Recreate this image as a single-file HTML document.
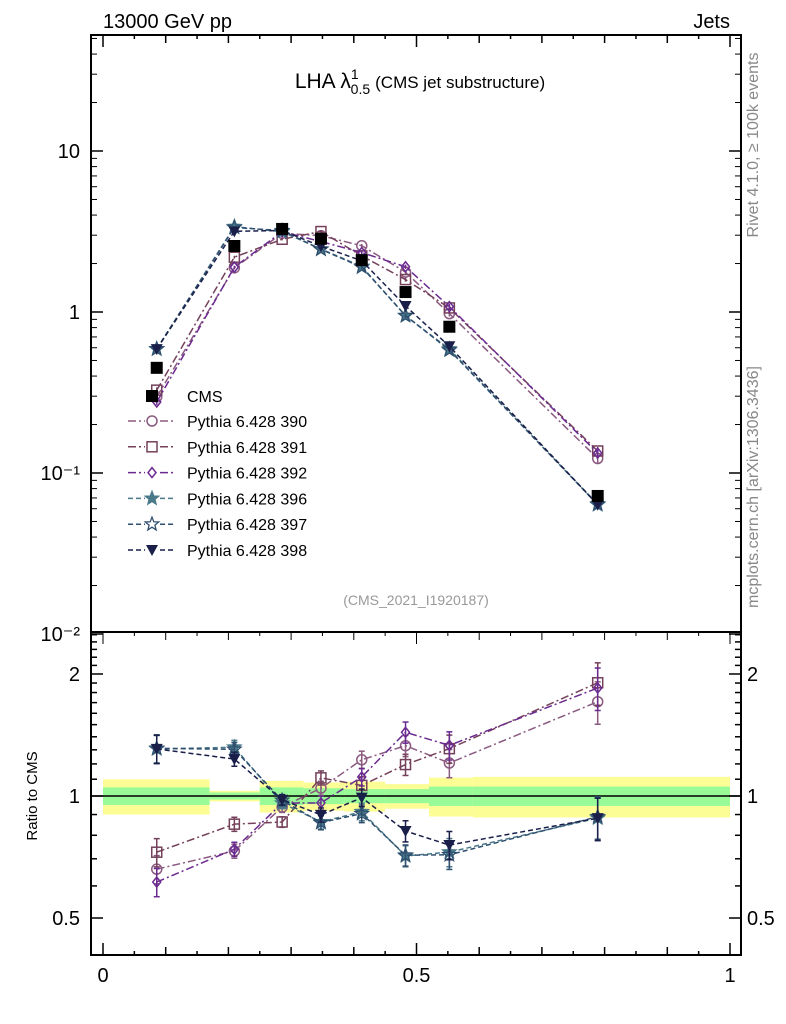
<!DOCTYPE html>
<html><head><meta charset="utf-8"><style>
body{margin:0;background:#fff;}
svg{display:block;font-family:"Liberation Sans",sans-serif;}
</style></head><body>
<svg id="c" width="786" height="1024" viewBox="0 0 786 1024">
<g id="bands"></g>
<g id="axes"></g>
<g id="series"></g>
<g id="legend"></g>
<text x="103" y="28" font-size="20">13000 GeV pp</text>
<text x="730" y="28" font-size="20" text-anchor="end">Jets</text>
<text x="420" y="88" font-size="21" text-anchor="middle">LHA λ<tspan font-size="14" dy="-9">1</tspan><tspan font-size="14" dx="-8" dy="15">0.5</tspan><tspan font-size="17" dx="5" dy="-6">(CMS jet substructure)</tspan></text>
<text x="416" y="605" font-size="14" fill="#999" text-anchor="middle">(CMS_2021_I1920187)</text>
<text transform="translate(758,145) rotate(-90)" font-size="16" fill="#888" text-anchor="middle">Rivet 4.1.0, ≥ 100k events</text>
<text transform="translate(758,487) rotate(-90)" font-size="16" fill="#888" text-anchor="middle">mcplots.cern.ch [arXiv:1306.3436]</text>
<text transform="translate(37,796) rotate(-90)" font-size="15" text-anchor="middle">Ratio to CMS</text>
</svg>
<script>
const xVals=[0.0857,0.2095,0.2857,0.3476,0.4127,0.4825,0.5524,0.789];
const cmsVals=[0.45,2.57,3.28,2.85,2.1,1.33,0.81,0.072];
const binEdges=[0,0.17,0.25,0.32,0.385,0.45,0.52,0.59,1];
const totErr=[0.10,0.03,0.09,0.08,0.085,0.07,0.11,0.115];
const statErr=[0.05,0.02,0.05,0.045,0.04,0.04,0.055,0.055];
const p390=[0.297,1.88,3.08,2.98,2.58,1.77,0.977,0.123];
const p391=[0.327,2.19,2.83,3.16,2.23,1.59,1.06,0.137];
const p392=[0.276,1.90,3.15,2.74,2.34,1.91,1.08,0.133];
const p396=[0.588,3.39,3.15,2.46,1.92,0.946,0.589,0.0635];
const p397=[0.59,3.35,3.2,2.45,1.9,0.95,0.58,0.064];
const p398=[0.588,3.17,3.21,2.56,2.08,1.09,0.613,0.0635];
const relErr=[0.08,0.04,0.03,0.04,0.05,0.06,0.08,0.12];
const mainTicks=["10\u207B\u00B2","10\u207B\u00B9","1","10"];
const ratioTicks=[0.5,1,2];
const xTicks=[0,0.5,1];

const NS="http://www.w3.org/2000/svg";
const L=91,R=741,T=35,MB=632,RB=955;
const X=v=>103+627*v;
const Y=v=>312-161*Math.log10(v);
const RY=r=>796-122*Math.log2(r);
function mk(tag,at,par){const e=document.createElementNS(NS,tag);for(const k in at)e.setAttribute(k,at[k]);par.appendChild(e);return e;}
const gB=document.getElementById('bands'),gA=document.getElementById('axes'),gS=document.getElementById('series'),gL=document.getElementById('legend');

for(let i=0;i<cmsVals.length;i++){
  const x0=X(binEdges[i]),x1=X(binEdges[i+1]);
  let r=mk('rect',{x:x0,y:RY(1+totErr[i]),width:x1-x0,height:RY(1-totErr[i])-RY(1+totErr[i]),fill:'#fdfd96'},gB);
  
  
  let g=mk('rect',{x:x0,y:RY(1+statErr[i]),width:x1-x0,height:RY(1-statErr[i])-RY(1+statErr[i]),fill:'#98fb98'},gB);
  
  
}
mk('line',{x1:L,x2:R,y1:RY(1),y2:RY(1),stroke:'#000','stroke-width':1.5},gB);

mk('rect',{x:L,y:T,width:R-L,height:MB-T,fill:'none',stroke:'#000','stroke-width':2},gA);
mk('rect',{x:L,y:MB,width:R-L,height:RB-MB,fill:'none',stroke:'#000','stroke-width':2},gA);
for(let d=-2;d<=1;d++){
  const y=Y(Math.pow(10,d));
  mk('line',{x1:L,x2:L+12,y1:y,y2:y,stroke:'#000','stroke-width':1.5},gA);
  mk('line',{x1:R,x2:R-12,y1:y,y2:y,stroke:'#000','stroke-width':1.5},gA);
  const t=mk('text',{x:80,y:y+7,'font-size':20,'text-anchor':'end'},gA);t.textContent=mainTicks[d+2];
  
  
  for(let m=2;m<=9;m++){const yy=Y(m*Math.pow(10,d));if(yy<T)continue;
    mk('line',{x1:L,x2:L+6,y1:yy,y2:yy,stroke:'#000'},gA);mk('line',{x1:R,x2:R-6,y1:yy,y2:yy,stroke:'#000'},gA);}
}
[0.5,0.6,0.7,0.8,0.9,1,1.1,1.2,1.3,1.4,1.5,1.6,1.7,1.8,1.9,2,2.1,2.2,2.3,2.4,2.5].forEach(v=>{const y=RY(v);if(y<MB+2)return;const maj=ratioTicks.includes(v);const l=maj?12:6;
  mk('line',{x1:L,x2:L+l,y1:y,y2:y,stroke:'#000','stroke-width':1.5},gA);mk('line',{x1:R,x2:R-l,y1:y,y2:y,stroke:'#000','stroke-width':1.5},gA);});
ratioTicks.forEach(v=>{const y=RY(v);
  const a=mk('text',{x:80,y:y+7,'font-size':20,'text-anchor':'end'},gA);a.textContent=String(v);
  
  
  const b=mk('text',{x:747,y:y+7,'font-size':20},gA);b.textContent=String(v);
  
  });
for(let k=0;k<=20;k++){const v=k/20,x=X(v);const l=k%10==0?12:(k%2==0?8:4);
  mk('line',{x1:x,x2:x,y1:RB,y2:RB-l,stroke:'#000','stroke-width':1.5},gA);
  mk('line',{x1:x,x2:x,y1:T,y2:T+l,stroke:'#000','stroke-width':1.5},gA);
  mk('line',{x1:x,x2:x,y1:MB,y2:MB+l,stroke:'#000','stroke-width':1},gA);}
xTicks.forEach(v=>{const t=mk('text',{x:X(v),y:RB+27,'font-size':20,'text-anchor':'middle'},gA);t.textContent=String(v);
  
  });

function marker(par,type,x,y,col){
  if(type=='circle')return mk('circle',{cx:x,cy:y,r:5,fill:'none',stroke:col,'stroke-width':1.5},par);
  if(type=='square')return mk('rect',{x:x-5,y:y-5,width:10,height:10,fill:'none',stroke:col,'stroke-width':1.5},par);
  if(type=='diamond')return mk('polygon',{points:`${x},${y-5} ${x+4},${y} ${x},${y+5} ${x-4},${y}`,fill:'none',stroke:col,'stroke-width':1.5},par);
  if(type=='star'||type=='ostar'){let p=[];for(let i=0;i<10;i++){const a=-Math.PI/2+i*Math.PI/5,rr=i%2?3:7;p.push((x+rr*Math.cos(a)).toFixed(1)+','+(y+rr*Math.sin(a)).toFixed(1));}
    return mk('polygon',{points:p.join(' '),fill:type=='star'?col:'none',stroke:col,'stroke-width':1.3},par);}
  if(type=='tri')return mk('polygon',{points:`${x-6},${y-5} ${x+6},${y-5} ${x},${y+6}`,fill:col},par);
  if(type=='cms')return mk('rect',{x:x-6,y:y-6,width:12,height:12,fill:'#000'},par);
}
const series=[
 {name:'390',vals:p390,col:'#8a5a80',m:'circle',dash:'8,3,2,3'},
 {name:'391',vals:p391,col:'#74405a',m:'square',dash:'8,3,2,3'},
 {name:'392',vals:p392,col:'#6a2a90',m:'diamond',dash:'8,3,2,3'},
 {name:'396',vals:p396,col:'#4a7a8a',m:'star',dash:'5,3'},
 {name:'397',vals:p397,col:'#2f4f6f',m:'ostar',dash:'5,3'},
 {name:'398',vals:p398,col:'#1a1f4a',m:'tri',dash:'5,3'}];
series.forEach(s=>{
  const g=mk('g',{},gS);
  
  
  const pm=s.vals.map((v,i)=>X(xVals[i])+','+Y(v)).join(' ');
  mk('polyline',{points:pm,fill:'none',stroke:s.col,'stroke-width':1.5,'stroke-dasharray':s.dash},g);
  const pr=s.vals.map((v,i)=>X(xVals[i])+','+RY(v/cmsVals[i])).join(' ');
  mk('polyline',{points:pr,fill:'none',stroke:s.col,'stroke-width':1.5,'stroke-dasharray':s.dash},g);
  s.vals.forEach((v,i)=>{const x=X(xVals[i]);
    const r=v/cmsVals[i],e=relErr[i];
    mk('line',{x1:x,x2:x,y1:RY(r*(1+e)),y2:RY(r*(1-e)),stroke:s.col,'stroke-width':1.5},g);
    mk('line',{x1:x-3,x2:x+3,y1:RY(r*(1+e)),y2:RY(r*(1+e)),stroke:s.col,'stroke-width':1.5},g);
    mk('line',{x1:x-3,x2:x+3,y1:RY(r*(1-e)),y2:RY(r*(1-e)),stroke:s.col,'stroke-width':1.5},g);
    mk('line',{x1:x,x2:x,y1:Y(v*(1+e/2)),y2:Y(v*(1-e/2)),stroke:s.col,'stroke-width':1.5},g);
    const p=marker(g,s.m,x,Y(v),s.col);
    
    
    const q=marker(g,s.m,x,RY(r),s.col);
    
    
  });
});
const gc=mk('g',{},gS);


cmsVals.forEach((v,i)=>{const p=marker(gc,'cms',X(xVals[i]),Y(v),'#000');
  
  });

const lc=marker(gL,'cms',152,396,'#000');
const ct=mk('text',{x:187,y:402,'font-size':16},gL);ct.textContent='CMS';


series.forEach((s,i)=>{const y=421+i*25.8;
  mk('line',{x1:128,x2:175,y1:y,y2:y,stroke:s.col,'stroke-width':1.5,'stroke-dasharray':s.dash},gL);
  mk('rect',{x:145,y:y-7,width:14,height:14,fill:'#fff'},gL);
  marker(gL,s.m,152,y,s.col);
  const t=mk('text',{x:187,y:y+6,'font-size':16},gL);t.textContent='Pythia 6.428 '+s.name;
  
  
});
</script>
</body></html>
